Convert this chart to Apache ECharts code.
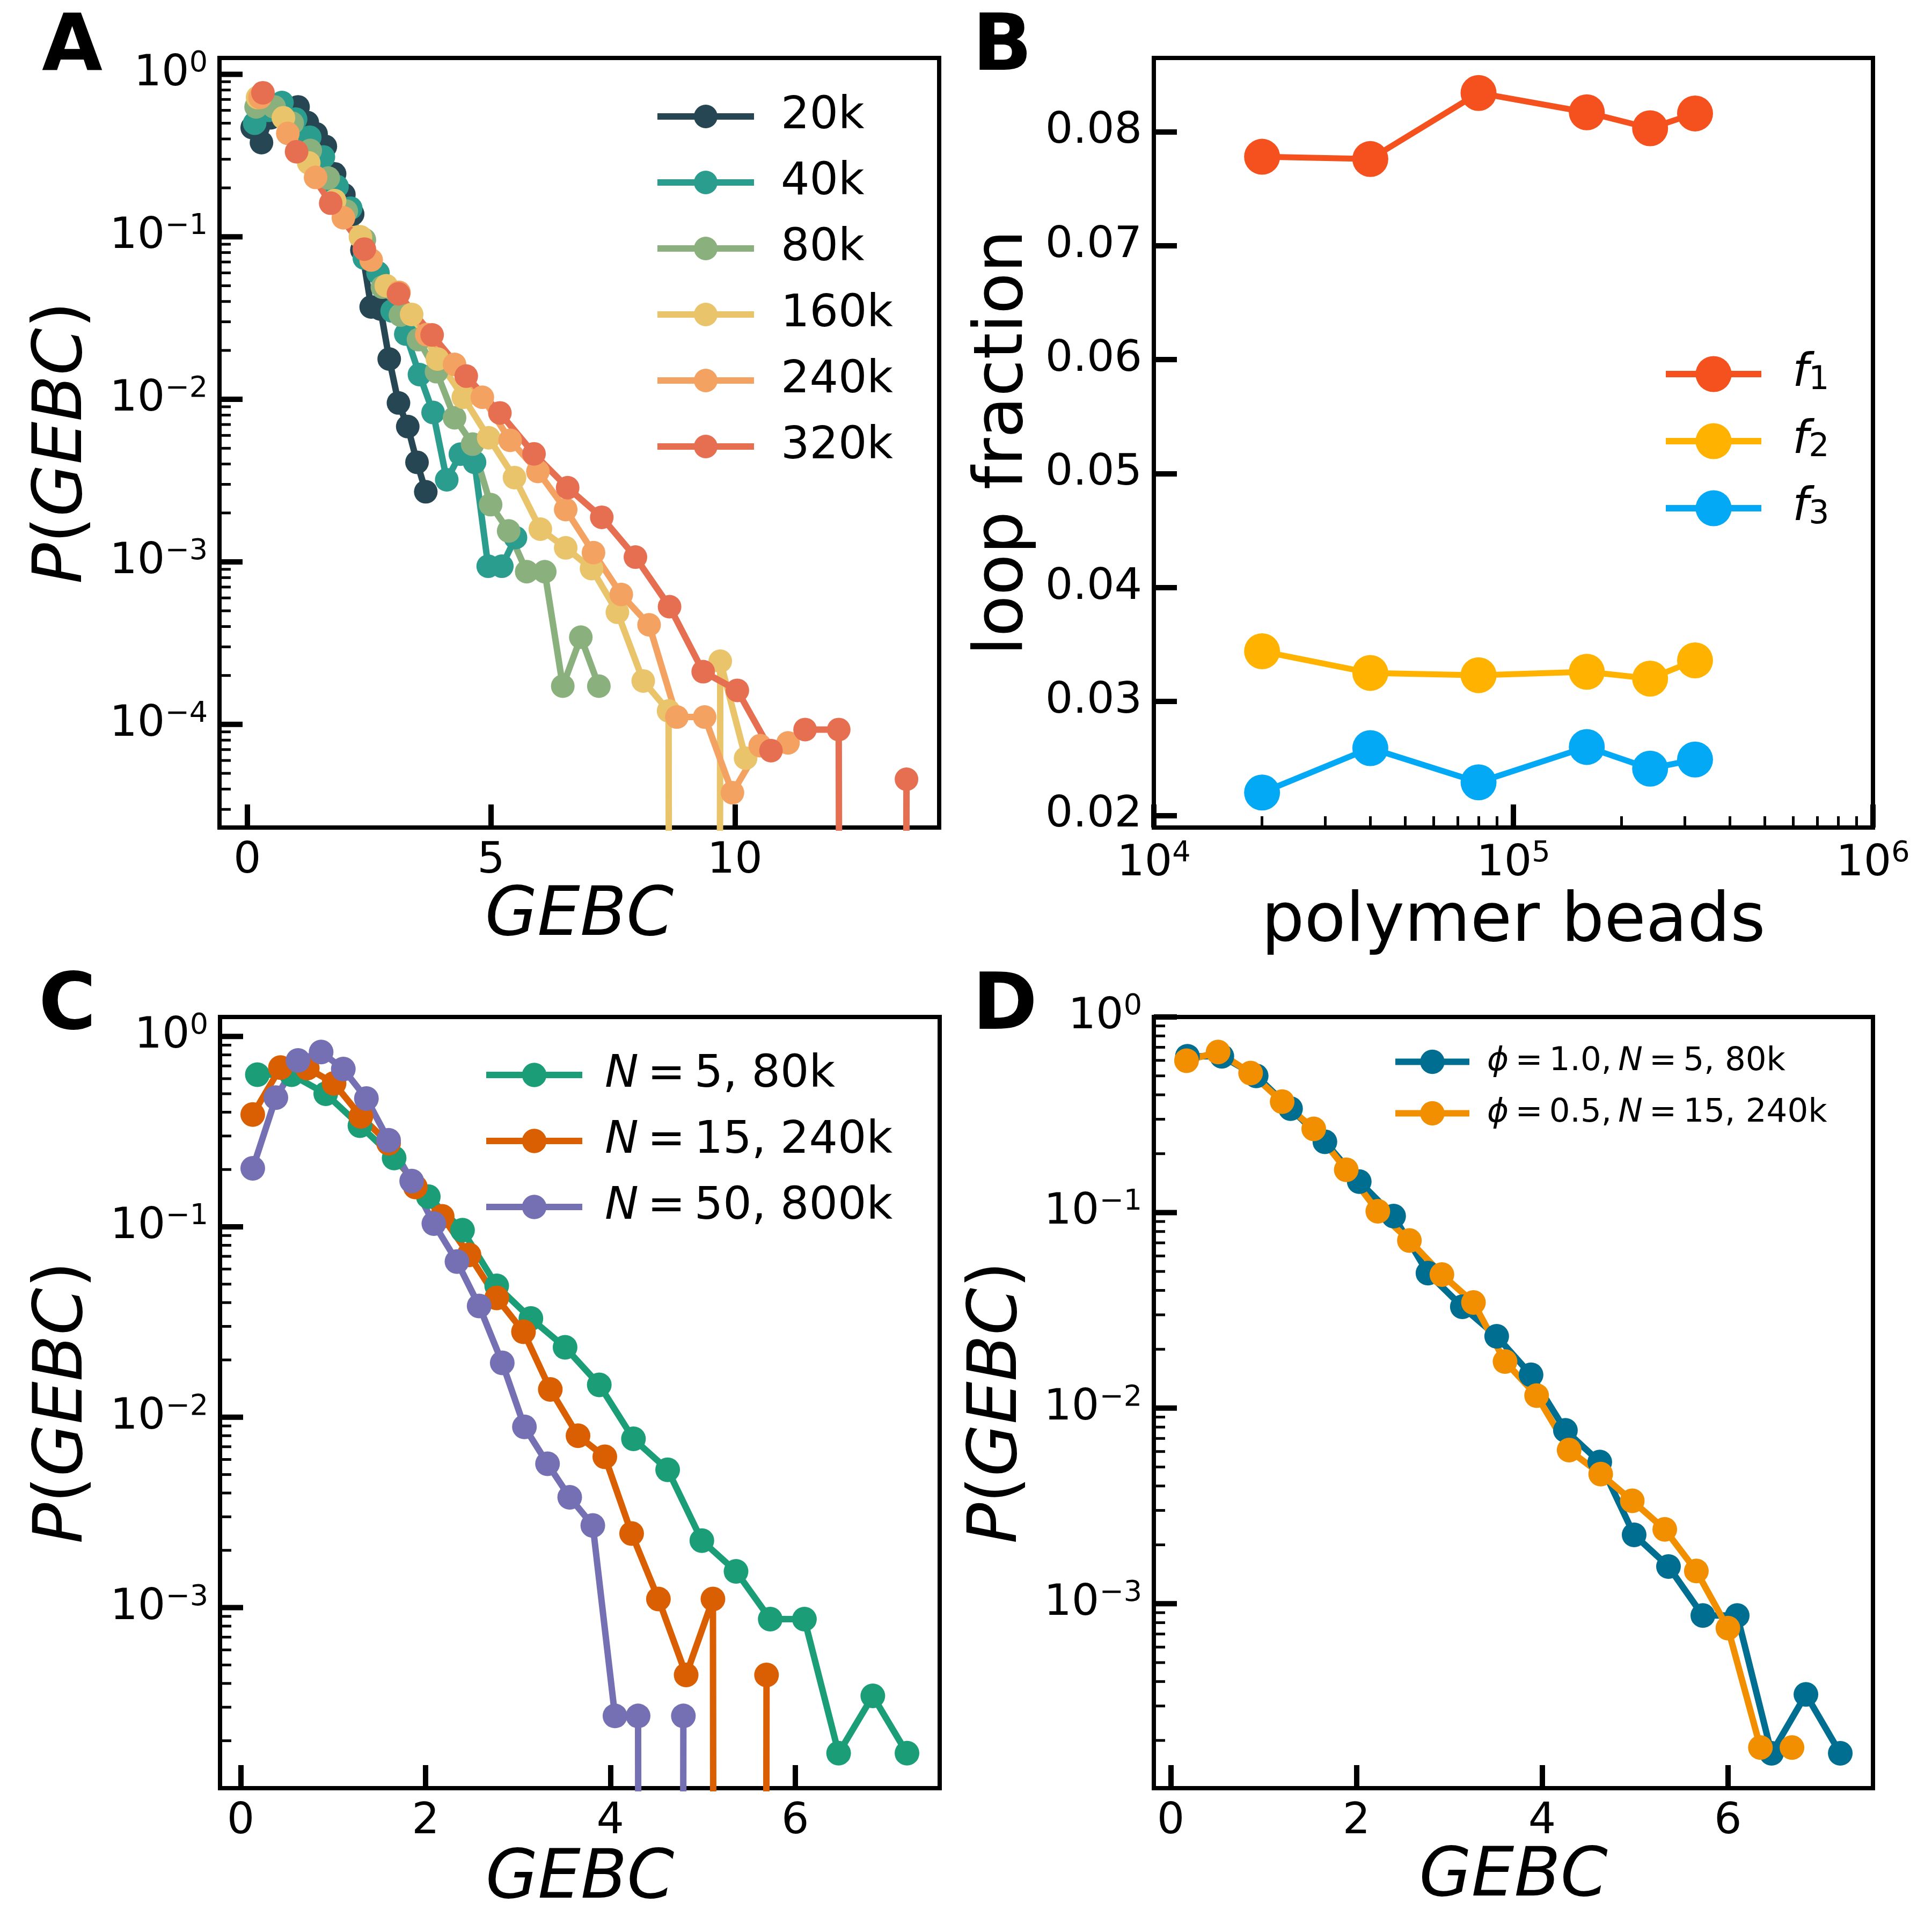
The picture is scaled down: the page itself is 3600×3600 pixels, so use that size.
<!doctype html>
<html lang="en">
<head>
<meta charset="utf-8">
<title>GEBC distributions and loop fractions</title>
<script src="https://cdn.jsdelivr.net/npm/echarts@6/dist/echarts.min.js"></script>
<style>
  html, body { margin: 0; padding: 0; background: #fff; }
  #chart { width: 3600px; height: 3600px; }
</style>
</head>
<body>
<div id="chart"></div>
<script>
// ---------- values ----------
// panel A: P(GEBC) for growing polymer size (0 = empty bin)
var gebc20k  = [0.10, 0.29, 0.48, 0.66, 0.85, 1.04, 1.23, 1.41, 1.60, 1.79, 1.98, 2.16, 2.35, 2.54, 2.73, 2.91, 3.10, 3.29, 3.48, 3.66];
var p20k     = [0.47, 0.38, 0.54, 0.60, 0.62, 0.63, 0.505, 0.43, 0.36, 0.244, 0.182, 0.138, 0.083, 0.037, 0.036, 0.0177, 0.0095, 0.0068, 0.0041, 0.0027];
var gebc40k  = [0.15, 0.43, 0.71, 0.99, 1.28, 1.56, 1.84, 2.12, 2.40, 2.68, 2.97, 3.25, 3.53, 3.81, 4.09, 4.37, 4.66, 4.94, 5.22, 5.50];
var p40k     = [0.50, 0.60, 0.67, 0.53, 0.41, 0.31, 0.204, 0.150, 0.074, 0.060, 0.035, 0.0252, 0.0142, 0.0083, 0.0032, 0.0046, 0.0041, 0.00094, 0.00094, 0.00141];
// 80k run, N = 5 (same curve in A, C and D)
var gebc80k  = [0.18, 0.55, 0.92, 1.29, 1.66, 2.03, 2.40, 2.77, 3.14, 3.51, 3.88, 4.25, 4.62, 4.99, 5.36, 5.73, 6.10, 6.47, 6.84, 7.21];
var p80k     = [0.63, 0.63, 0.50, 0.34, 0.23, 0.144, 0.096, 0.049, 0.033, 0.0233, 0.0148, 0.0077, 0.0053, 0.00225, 0.00155, 0.00087, 0.00087, 0.000172, 0.000344, 0.000172];
var gebc160k = [0.21, 0.74, 1.26, 1.79, 2.32, 2.85, 3.37, 3.90, 4.43, 4.95, 5.48, 6.01, 6.53, 7.06, 7.59, 8.12, 8.64, 9.17, 9.70, 10.22];
var p160k    = [0.72, 0.54, 0.285, 0.167, 0.100, 0.050, 0.0333, 0.0177, 0.0103, 0.0058, 0.0033, 0.00159, 0.00122, 0.00091, 0.00049, 0.000185, 0.000121, 0, 0.000245, 0.000062];
var gebc240k = [0.26, 0.83, 1.40, 1.97, 2.54, 3.11, 3.68, 4.25, 4.82, 5.39, 5.96, 6.53, 7.10, 7.67, 8.24, 8.81, 9.38, 9.95, 10.52, 11.09];
var p240k    = [0.72, 0.433, 0.232, 0.131, 0.072, 0.0455, 0.025, 0.0164, 0.0103, 0.0056, 0.0036, 0.0021, 0.00114, 0.00063, 0.00041, 0.000111, 0.000111, 0.000038, 0.000074, 0.000077];
var gebc320k = [0.32, 1.01, 1.71, 2.40, 3.10, 3.79, 4.49, 5.18, 5.88, 6.57, 7.27, 7.96, 8.66, 9.35, 10.05, 10.74, 11.44, 12.13, 12.83, 13.52];
var p320k    = [0.769, 0.334, 0.161, 0.084, 0.0446, 0.0249, 0.0139, 0.00825, 0.00462, 0.00286, 0.00188, 0.00107, 0.00053, 0.000211, 0.000162, 0.000069, 0.000093, 0.000093, 0, 0.000046];

// panel B: loop fractions vs polymer beads
var beads = [20000, 40000, 80000, 160000, 240000, 320000];
var f1 = [0.0778, 0.0776, 0.0834, 0.0817, 0.0803, 0.0816];
var f2 = [0.0344, 0.0325, 0.0323, 0.0326, 0.0320, 0.0336];
var f3 = [0.0220, 0.0259, 0.0229, 0.0260, 0.0241, 0.0249];

// panel C: N = 15 (240k) and N = 50 (800k)
var gebcN15 = [0.13, 0.43, 0.72, 1.01, 1.30, 1.60, 1.89, 2.18, 2.47, 2.77, 3.06, 3.35, 3.65, 3.94, 4.23, 4.52, 4.82, 5.11, 5.40, 5.69];
var pN15    = [0.389, 0.686, 0.682, 0.567, 0.38, 0.275, 0.162, 0.1135, 0.0713, 0.0423, 0.0281, 0.0140, 0.0080, 0.0062, 0.00245, 0.00111, 0.000443, 0.00111, 0, 0.000443];
var gebcN50 = [0.13, 0.38, 0.62, 0.87, 1.11, 1.36, 1.60, 1.85, 2.09, 2.34, 2.58, 2.83, 3.07, 3.32, 3.56, 3.81, 4.05, 4.30, 4.54, 4.79];
var pN50    = [0.203, 0.477, 0.748, 0.828, 0.674, 0.472, 0.285, 0.174, 0.104, 0.0657, 0.0384, 0.0193, 0.0089, 0.0057, 0.0038, 0.0027, 0.00027, 0.00027, 0, 0.00027];

// panel D: phi = 0.5, N = 15, 240k
var gebcPhi05 = [0.17, 0.51, 0.86, 1.20, 1.54, 1.89, 2.23, 2.57, 2.92, 3.26, 3.60, 3.94, 4.29, 4.63, 4.97, 5.32, 5.66, 6.00, 6.35, 6.69];
var pPhi05    = [0.598, 0.662, 0.517, 0.369, 0.268, 0.1655, 0.1015, 0.072, 0.0482, 0.0347, 0.0173, 0.0116, 0.0061, 0.0046, 0.00336, 0.0024, 0.00147, 0.00075, 0.000184, 0.000184];

// tick labels
var ticksAx = [0, 5, 10];
var ticksCDx = [0, 2, 4, 6];
var ticksAy = [1e-4, 1e-3, 1e-2, 1e-1, 1];
var ticksCDy = [1e-3, 1e-2, 1e-1, 1];
var ticksBx = [1e4, 1e5, 1e6];
var ticksBy = [0.02, 0.03, 0.04, 0.05, 0.06, 0.07, 0.08];

// legend texts and colours
var namesA = ['20k', '40k', '80k', '160k', '240k', '320k'];
var colorsA = ['#264653', '#2a9d8f', '#8ab17d', '#e9c46a', '#f4a261', '#e76f51'];
var colorsB = ['#f4511e', '#ffb300', '#03a9f4'];
var colorsC = ['#1b9e77', '#d95f02', '#7570b3'];
var colorsD = ['#006e90', '#f18f01'];
var TS = '\u2009'; // thin space, like mathtext around "="

// ---------- helpers ----------
var FONT = '"DejaVu Sans", sans-serif';
var BLACK = '#000';

function pairs(xs, ys) {
  // empty bins: matplotlib drops the line straight to the bottom of a log axis
  return xs.map(function (x, i) { return [x, ys[i] > 0 ? ys[i] : 1e-100]; });
}

function minorLog(lo, hi) {
  var out = [];
  for (var e = lo; e < hi; e++) {
    for (var m = 2; m <= 9; m++) out.push(m * Math.pow(10, e));
  }
  return out;
}

function pow10Label(v) {
  var e = Math.round(Math.log10(v));
  return '{n|10}{s|' + (e < 0 ? '\u2212' + (-e) : e) + '}';
}

var tickFont = 81;
var supRich = {
  n: { fontFamily: FONT, fontSize: tickFont, lineHeight: 92, color: BLACK },
  s: { fontFamily: FONT, fontSize: 54, lineHeight: 54, verticalAlign: 'top', color: BLACK }
};

var nameRich = {
  i: { fontFamily: FONT, fontSize: 126, fontStyle: 'italic', color: BLACK },
  r: { fontFamily: FONT, fontSize: 126, color: BLACK }
};

function majorTick(vals) {
  return { show: true, inside: true, length: 43, lineStyle: { color: BLACK, width: 10 }, customValues: vals };
}

function baseAxis(extra) {
  var ax = {
    axisLine: { show: false, onZero: false },
    splitLine: { show: false },
    minorTick: { show: false },
    nameTextStyle: { fontFamily: FONT, fontSize: 126, color: BLACK, rich: nameRich }
  };
  for (var k in extra) ax[k] = extra[k];
  return ax;
}

function linLabel(vals) {
  return { customValues: vals, margin: 22, color: BLACK, fontFamily: FONT, fontSize: tickFont };
}

function logLabel(vals) {
  return { customValues: vals, margin: 22, color: BLACK, fontFamily: FONT, fontSize: tickFont, formatter: pow10Label, rich: supRich };
}

function minorAxis(type, grid, pos, min, max, vals) {
  return {
    type: type, gridIndex: grid, position: pos, offset: 0, min: min, max: max,
    axisLine: { show: false, onZero: false }, splitLine: { show: false }, axisLabel: { show: false },
    axisTick: { show: true, inside: true, length: 21, lineStyle: { color: BLACK, width: 5 }, customValues: vals }
  };
}

// decade and 2..9 ticks of a log y axis, drawn inward from the left spine
function logTicks(xi, yi, xRef, lo, hi) {
  var data = [];
  for (var e = Math.floor(Math.log10(lo)); e <= Math.ceil(Math.log10(hi)); e++) {
    for (var m = 1; m <= 9; m++) {
      var v = m * Math.pow(10, e);
      if (v >= lo && v <= hi * 1.000001) data.push([xRef, v, m === 1 ? 43 : 21]);
    }
  }
  return {
    type: 'custom', xAxisIndex: xi, yAxisIndex: yi, z: 10,
    encode: { x: 0, y: 1 }, data: data,
    renderItem: function (params, api) {
      var p = api.coord([api.value(0), api.value(1)]);
      var len = api.value(2);
      return {
        type: 'line',
        shape: { x1: p[0], y1: p[1], x2: p[0] + len, y2: p[1] },
        style: { stroke: BLACK, lineWidth: len > 30 ? 10 : 5 }
      };
    }
  };
}

function line(name, xs, ys, color, xi, yi, size, width) {
  return {
    name: name, type: 'line', xAxisIndex: xi, yAxisIndex: yi,
    data: pairs(xs, ys), symbol: 'circle', symbolSize: size,
    lineStyle: { color: color, width: width }, itemStyle: { color: color },
    clip: true, emphasis: { disabled: true }, silent: true
  };
}

function legend(names, fmt, left, top, w, h, gap, fontSize, rich) {
  rich.g = rich.g || { width: 45 };
  rich.g.fontSize = 10;
  rich.g.lineHeight = 10;
  return {
    data: names, orient: 'vertical', left: left, top: top, padding: 0,
    itemWidth: w, itemHeight: h, itemGap: gap, selectedMode: false,
    lineStyle: { width: 12 },
    textStyle: { color: BLACK, fontFamily: FONT, fontSize: fontSize, lineHeight: h, rich: rich },
    formatter: fmt
  };
}

function panelLabel(text, left, top) {
  return { type: 'text', left: left, top: top, style: { text: text, font: 'bold 146px "DejaVu Sans"', fill: BLACK } };
}

// ---------- chart ----------
var chart = echarts.init(document.getElementById('chart'), null, { renderer: 'canvas', width: 3600, height: 3600 });

var xMinA = -0.571, xMaxA = 14.19;
var xMinC = -0.224, xMaxC = 7.564;
var xMinD = -0.182, xMaxD = 7.562;
var yMinA = 2.32e-5, yMaxA = 1.26;
var yMinC = 1.127e-4, yMaxC = 1.265;
var yMinD = 1.14e-4, yMaxD = 1.0;

function frame(left, top, width, height) {
  return { left: left, top: top, width: width, height: height, show: true, borderColor: BLACK, borderWidth: 8, containLabel: false, outerBoundsMode: 'none' };
}

var noTick = { show: false };

var option = {
  backgroundColor: '#fff',
  animation: false,
  grid: [
    frame(409, 108, 1341, 1434),
    frame(2150, 108, 1340, 1434),
    frame(410, 1895, 1341, 1437),
    frame(2150, 1895, 1340, 1437)
  ],
  xAxis: [
    baseAxis({ type: 'value', gridIndex: 0, min: xMinA, max: xMaxA, axisTick: majorTick(ticksAx), axisLabel: linLabel(ticksAx),
      name: '{i|GEBC}', nameLocation: 'middle', nameGap: 100 }),
    baseAxis({ type: 'log', logBase: 10, gridIndex: 1, min: 1e4, max: 1e6, axisTick: majorTick(ticksBx), axisLabel: logLabel(ticksBx),
      name: 'polymer beads', nameLocation: 'middle', nameGap: 115 }),
    minorAxis('log', 1, 'bottom', 1e4, 1e6, minorLog(4, 6)),
    baseAxis({ type: 'value', gridIndex: 2, min: xMinC, max: xMaxC, axisTick: majorTick(ticksCDx), axisLabel: linLabel(ticksCDx),
      name: '{i|GEBC}', nameLocation: 'middle', nameGap: 108 }),
    baseAxis({ type: 'value', gridIndex: 3, min: xMinD, max: xMaxD, axisTick: majorTick(ticksCDx), axisLabel: linLabel(ticksCDx),
      name: '{i|GEBC}', nameLocation: 'middle', nameGap: 100 })
  ],
  yAxis: [
    baseAxis({ type: 'log', logBase: 10, gridIndex: 0, position: 'left', min: yMinA, max: yMaxA, axisTick: noTick, axisLabel: logLabel(ticksAy),
      name: '{i|P}{r|(}{i|GEBC}{r|)}', nameLocation: 'middle', nameGap: 228 }),
    baseAxis({ type: 'value', gridIndex: 1, position: 'left', min: 0.01893, max: 0.08647, axisTick: majorTick(ticksBy),
      axisLabel: { customValues: ticksBy, margin: 22, color: BLACK, fontFamily: FONT, fontSize: tickFont, formatter: function (v) { return v.toFixed(2); } },
      name: 'loop fraction', nameLocation: 'middle', nameGap: 216 }),
    baseAxis({ type: 'log', logBase: 10, gridIndex: 2, position: 'left', min: yMinC, max: yMaxC, axisTick: noTick, axisLabel: logLabel(ticksCDy),
      name: '{i|P}{r|(}{i|GEBC}{r|)}', nameLocation: 'middle', nameGap: 228 }),
    baseAxis({ type: 'log', logBase: 10, gridIndex: 3, position: 'left', min: yMinD, max: yMaxD, axisTick: noTick, axisLabel: logLabel(ticksCDy),
      name: '{i|P}{r|(}{i|GEBC}{r|)}', nameLocation: 'middle', nameGap: 227 })
  ],
  legend: [
    legend(namesA, function (n) { return '{g| }{t|' + n + '}'; }, 1219, 175, 180, 55, 39, 84,
      { t: { fontFamily: FONT, fontSize: 84, lineHeight: 55, color: BLACK } }),
    legend(['f1', 'f2', 'f3'], function (n) { return '{g| }{i|f}{s|' + n.slice(1) + '}'; }, 3098, 654, 178, 84, 39, 86,
      { g: { width: 53 },
        i: { fontFamily: FONT, fontSize: 86, fontStyle: 'italic', lineHeight: 84, color: BLACK },
        s: { fontFamily: FONT, fontSize: 60, lineHeight: 50, verticalAlign: 'bottom', color: BLACK } }),
    legend(['N5', 'N15', 'N50'], function (n) {
        var txt = { N5: '=' + TS + '5, 80k', N15: '=' + TS + '15, 240k', N50: '=' + TS + '50, 800k' }[n];
        return '{g| }{i|N}{t|' + TS + txt + '}';
      }, 900, 1961, 179, 57, 39, 84,
      { g: { width: 37 },
        i: { fontFamily: FONT, fontSize: 84, fontStyle: 'italic', lineHeight: 57, color: BLACK },
        t: { fontFamily: FONT, fontSize: 84, lineHeight: 57, color: BLACK } }),
    legend(['phi10', 'phi05'], function (n) {
        var t = n === 'phi10' ? ['1.0', '5, 80k'] : ['0.5', '15, 240k'];
        return '{g| }{i|\u03d5}{t|' + TS + '=' + TS + t[0] + ',' + TS + '}{i|N}{t|' + TS + '=' + TS + t[1] + '}';
      }, 2594, 1948, 138, 57, 35, 61,
      { g: { width: 28 },
        i: { fontFamily: FONT, fontSize: 61, fontStyle: 'italic', lineHeight: 57, color: BLACK },
        t: { fontFamily: FONT, fontSize: 61, lineHeight: 57, color: BLACK } })
  ],
  graphic: [
    panelLabel('A', 78, 19),
    panelLabel('B', 1812, 19),
    panelLabel('C', 72, 1806),
    panelLabel('D', 1812, 1806)
  ],
  series: [
    line('20k', gebc20k, p20k, colorsA[0], 0, 0, 44, 12),
    line('40k', gebc40k, p40k, colorsA[1], 0, 0, 44, 12),
    line('80k', gebc80k, p80k, colorsA[2], 0, 0, 44, 12),
    line('160k', gebc160k, p160k, colorsA[3], 0, 0, 44, 12),
    line('240k', gebc240k, p240k, colorsA[4], 0, 0, 44, 12),
    line('320k', gebc320k, p320k, colorsA[5], 0, 0, 44, 12),

    line('f1', beads, f1, colorsB[0], 1, 1, 67, 11),
    line('f2', beads, f2, colorsB[1], 1, 1, 67, 11),
    line('f3', beads, f3, colorsB[2], 1, 1, 67, 11),

    line('N5', gebc80k, p80k, colorsC[0], 3, 2, 46, 12),
    line('N15', gebcN15, pN15, colorsC[1], 3, 2, 46, 12),
    line('N50', gebcN50, pN50, colorsC[2], 3, 2, 46, 12),

    line('phi10', gebc80k, p80k, colorsD[0], 4, 3, 46, 12),
    line('phi05', gebcPhi05, pPhi05, colorsD[1], 4, 3, 46, 12),

    logTicks(0, 0, xMinA, yMinA, yMaxA),
    logTicks(3, 2, xMinC, yMinC, yMaxC),
    logTicks(4, 3, xMinD, yMinD, yMaxD)
  ]
};

chart.setOption(option);
</script>
</body>
</html>
